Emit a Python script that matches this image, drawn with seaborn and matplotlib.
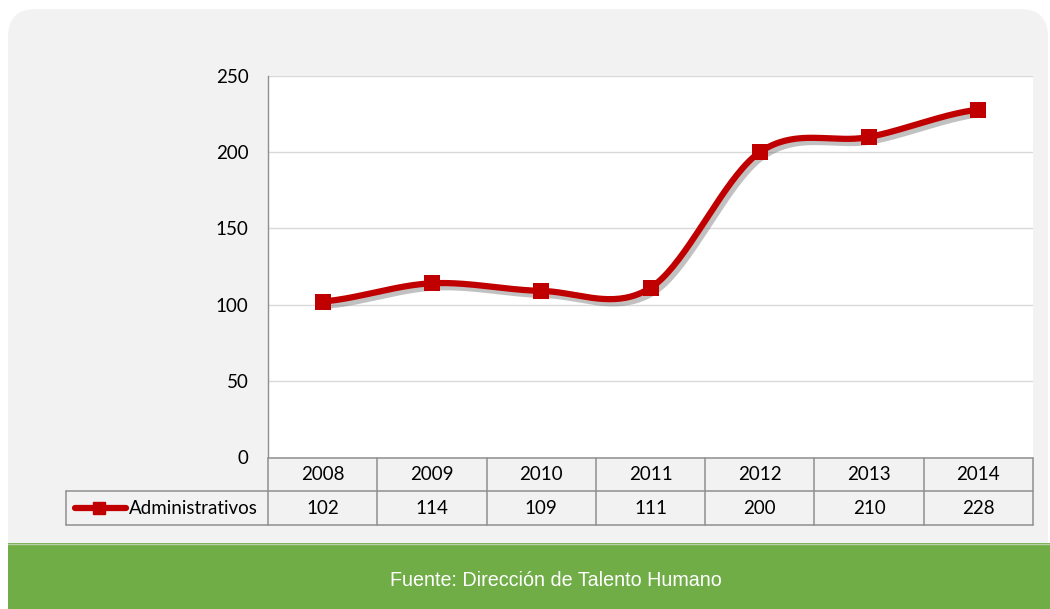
import numpy as np
import pandas as pd
import matplotlib
matplotlib.use("Agg")
import matplotlib.pyplot as plt
import matplotlib.patheffects as pe
from matplotlib.patches import FancyBboxPatch, Rectangle
from matplotlib.lines import Line2D
import seaborn as sns

# Data
years = ["2008", "2009", "2010", "2011", "2012", "2013", "2014"]
administrativos = [102, 114, 109, 111, 200, 210, 228]
series_name = "Administrativos"
y_ticks = [0, 50, 100, 150, 200, 250]
source_text = "Fuente: Dirección de Talento Humano"

RED = "#c00000"
PANEL = "#f2f2f2"
GREEN = "#70ad47"
GRID = "#d9d9d9"
TABLE_LINE = "#8f8f8f"
FS = 13.5

sns.set_theme(style="white")
plt.rcParams["font.family"] = ["Lato", "DejaVu Sans"]

W, H = 1050, 609
fig = plt.figure(figsize=(W / 100, H / 100), dpi=100)
fig.patch.set_facecolor("white")

# Background layer in pixel coordinates
bg = fig.add_axes([0, 0, 1, 1], zorder=0)
bg.set_xlim(0, W)
bg.set_ylim(H, 0)
bg.axis("off")
bg.add_patch(FancyBboxPatch((8 + 28, 9 + 28), W - 8 - 56 - 2, 560,
                            boxstyle="round,pad=28,rounding_size=28",
                            facecolor=PANEL, edgecolor="none"))
bg.add_patch(Rectangle((8, 543), W - 8, 66, facecolor=GREEN, edgecolor="none"))
bg.plot([8, W], [543.5, 543.5], color="#b9cfa8", lw=1)
bg.text(556, 580, source_text, color="white", fontsize=14.2, ha="center", va="center",
        family=["Liberation Sans Narrow", "Liberation Sans", "DejaVu Sans"])

# Plot area
x0, x1, ytop, ybot = 268, 1033, 76, 457
ax = fig.add_axes([x0 / W, 1 - ybot / H, (x1 - x0) / W, (ybot - ytop) / H], zorder=2)
ax.set_facecolor("white")

df = pd.DataFrame({"pos": np.arange(len(years)), "valor": administrativos})

# Smoothed path through the points (Catmull-Rom, like a spreadsheet "smooth line")
px = df["pos"].to_numpy(float)
py = df["valor"].to_numpy(float)
ext_x = np.concatenate([[2 * px[0] - px[1]], px, [2 * px[-1] - px[-2]]])
ext_y = np.concatenate([[py[0]], py, [py[-1]]])
sx, sy = [], []
t = np.linspace(0, 1, 40)
for i in range(1, len(ext_x) - 2):
    p0x, p1x, p2x, p3x = ext_x[i - 1:i + 3]
    p0y, p1y, p2y, p3y = ext_y[i - 1:i + 3]
    c1x, c1y = p1x + (p2x - p0x) / 6, p1y + (p2y - p0y) / 6
    c2x, c2y = p2x - (p3x - p1x) / 6, p2y - (p3y - p1y) / 6
    bx = (1 - t) ** 3 * p1x + 3 * (1 - t) ** 2 * t * c1x + 3 * (1 - t) * t ** 2 * c2x + t ** 3 * p2x
    by = (1 - t) ** 3 * p1y + 3 * (1 - t) ** 2 * t * c1y + 3 * (1 - t) * t ** 2 * c2y + t ** 3 * p2y
    sx.extend(bx)
    sy.extend(by)
smooth = pd.DataFrame({"pos": sx, "valor": sy})

shadow = [pe.SimpleLineShadow(offset=(2.5, -3), shadow_color="#666666", alpha=0.4),
          pe.Normal()]
sns.lineplot(data=smooth, x="pos", y="valor", ax=ax, color=RED, lw=4.5, sort=False,
             estimator=None, path_effects=shadow, solid_capstyle="round", zorder=3)
sns.scatterplot(data=df, x="pos", y="valor", ax=ax, marker="s", s=140, color=RED,
                edgecolor=RED, linewidth=0, zorder=4)

ax.set_xlim(-0.5, len(years) - 0.5)
ax.set_ylim(0, 250)
ax.set_yticks(y_ticks)
ax.set_yticklabels([str(v) for v in y_ticks], fontsize=FS, color="black")
ax.tick_params(axis="y", length=0, pad=14)
ax.set_xticks([])
ax.set_xlabel("")
ax.set_ylabel("")
for v in y_ticks[1:]:
    ax.axhline(v, color=GRID, lw=1, zorder=1)
for s in ["top", "right", "bottom"]:
    ax.spines[s].set_visible(False)
ax.spines["left"].set_color(TABLE_LINE)
ax.spines["left"].set_linewidth(1)

# Data table beneath the plot
fig.canvas.draw()
to_px = lambda x, y: (ax.transData.transform((x, y))[0], H - ax.transData.transform((x, y))[1])
col_edges = [to_px(i - 0.5, 0)[0] for i in range(len(years) + 1)]
r0, r1, r2 = 457.5, 490.5, 524.5
legend_left = 65.5
tbl_kw = dict(color=TABLE_LINE, lw=1.1, zorder=3)
bg.plot([col_edges[0], col_edges[-1]], [r0, r0], **tbl_kw)
bg.plot([legend_left, col_edges[-1]], [r1, r1], **tbl_kw)
bg.plot([legend_left, col_edges[-1]], [r2, r2], **tbl_kw)
bg.plot([legend_left, legend_left], [r1, r2], **tbl_kw)
for xe in col_edges:
    bg.plot([xe, xe], [r0, r2], **tbl_kw)
for i, (yr, val) in enumerate(zip(years, administrativos)):
    cx = (col_edges[i] + col_edges[i + 1]) / 2
    bg.text(cx, (r0 + r1) / 2 + 1, yr, ha="center", va="center", fontsize=FS, color="black")
    bg.text(cx, (r1 + r2) / 2 + 1, str(val), ha="center", va="center", fontsize=FS, color="black")

# Legend key inside the table
ym = (r1 + r2) / 2
bg.add_line(Line2D([75, 126], [ym, ym], color=RED, lw=4.5, solid_capstyle="round", zorder=4))
bg.add_line(Line2D([99], [ym], color=RED, marker="s", markersize=8, lw=0, zorder=5))
bg.text(129, ym + 1, series_name, ha="left", va="center", fontsize=FS, color="black")

fig.savefig("out.png", dpi=100, facecolor="white")
